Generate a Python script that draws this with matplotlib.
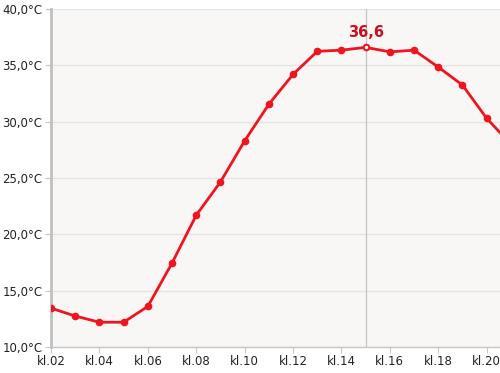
import matplotlib
matplotlib.use("Agg")
import matplotlib.pyplot as plt

# hourly temperature readings (°C)
hours = list(range(2, 22))
temps = [13.45, 12.75, 12.2, 12.2, 13.6, 17.45, 21.7, 24.65, 28.3, 31.55,
         34.2, 36.25, 36.35, 36.6, 36.2, 36.35, 34.85, 33.25, 30.3, 28.0]
tick_hours = [2, 4, 6, 8, 10, 12, 14, 16, 18, 20]
tick_labels = ["kl.%02d" % h for h in tick_hours]
y_ticks = [10, 15, 20, 25, 30, 35, 40]
y_labels = ["%d,0°C" % v for v in y_ticks]
hl_hour = 15
hl_value = 36.6

red = "#f0141e"
fig = plt.figure(figsize=(5, 3.73), dpi=100)
ax = fig.add_axes([0.102, 0.0697, 0.898, 0.906])
ax.set_facecolor("#f8f7f6")

ax.plot(hours, temps, color=red, lw=2, marker="o", ms=4.5, zorder=3, clip_on=True)
ax.axvline(hl_hour, color="#c4c4c4", lw=0.9, zorder=2)
ax.plot([hl_hour], [hl_value], marker="o", ms=3.5, mfc="white", mec=red, mew=1.0, zorder=4)
ax.annotate("36,6", (hl_hour, hl_value), xytext=(0, 5), textcoords="offset points",
            ha="center", va="bottom", color="#c8101e", fontsize=10.5, fontweight="bold")

ax.set_xlim(2, 20.55)
ax.set_ylim(10, 40)
ax.set_xticks(tick_hours)
ax.set_xticklabels(tick_labels)
ax.set_yticks(y_ticks)
ax.set_yticklabels(y_labels)
ax.grid(axis="y", color="#e4e4e4", lw=1)
ax.set_axisbelow(True)

for s in ["top", "right"]:
    ax.spines[s].set_visible(False)
ax.spines["left"].set_color("#c0c0c0")
ax.spines["left"].set_linewidth(2)
ax.spines["bottom"].set_color("#c8c8c8")
ax.spines["bottom"].set_linewidth(1)
ax.tick_params(axis="x", length=4, color="#c8c8c8", labelsize=8.5, pad=2, labelcolor="#222222")
ax.tick_params(axis="y", length=4, color="#c8c8c8", labelsize=8.5, pad=2, labelcolor="#222222")

fig.savefig("out.png", dpi=100)
